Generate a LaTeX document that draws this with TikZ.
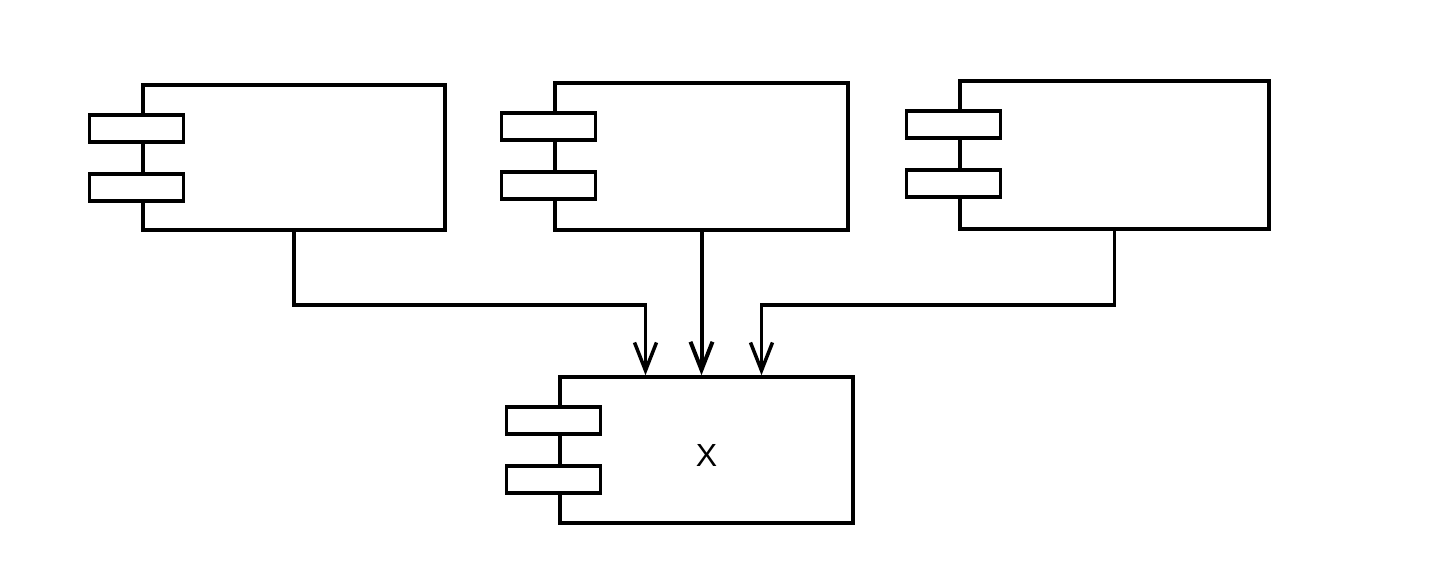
\documentclass[tikz,border=0pt]{standalone}
\usepackage{fontspec}
\setsansfont{Liberation Sans}
\usetikzlibrary{arrows.meta,positioning,calc}

\tikzset{
  compbox/.style={draw,line width=3.5pt,inner sep=0,fill=white},
  comptab/.style={draw,line width=3.5pt,inner sep=0,fill=white,
    minimum width=94pt,minimum height=27pt},
  link/.style={line width=3.5pt,-{Straight Barb[length=28pt,width=22pt]}}
}

\begin{document}
\begin{tikzpicture}[x=1pt,y=-1pt]
    \useasboundingbox (0,0) rectangle (1444,562);
    % component boxes
    \node[compbox,minimum width=302pt,minimum height=145pt] (ca) at (294,157.5) {};
    \node[compbox,minimum width=293pt,minimum height=147pt] (cb) at (701.5,156.5) {};
    \node[compbox,minimum width=309pt,minimum height=148pt] (cc) at (1114.5,155) {};
    \node[compbox,minimum width=293pt,minimum height=146pt] (cx) at (706.5,450) {};
    \node[inner sep=0,font=\sffamily\fontsize{32}{32}\selectfont]
      (xlabel) at ($(cx.center)+(0,5)$) {X};
    % the two tabs on each component
    \foreach \c in {ca,cb,cc,cx} {
      \node[comptab] (\c-t1) at ($(\c.north west)+(-5,45)$) {};
      \node[comptab] (\c-t2) at ($(\c.north west)+(-5,104)$) {};
    }
    % connectors
    \coordinate (xa) at ($(cx.north)+(-61,0)$);
    \coordinate (xc) at ($(cx.north)+(55,0)$);
    \draw[link] (ca.south) -- ++(0,73) -| (xa);
    \draw[link,line width=4pt] (cb.south) -- (cb.south |- cx.north);
    \draw[link] (cc.south) -- ++(0,74) -| (xc);
\end{tikzpicture}
\end{document}
